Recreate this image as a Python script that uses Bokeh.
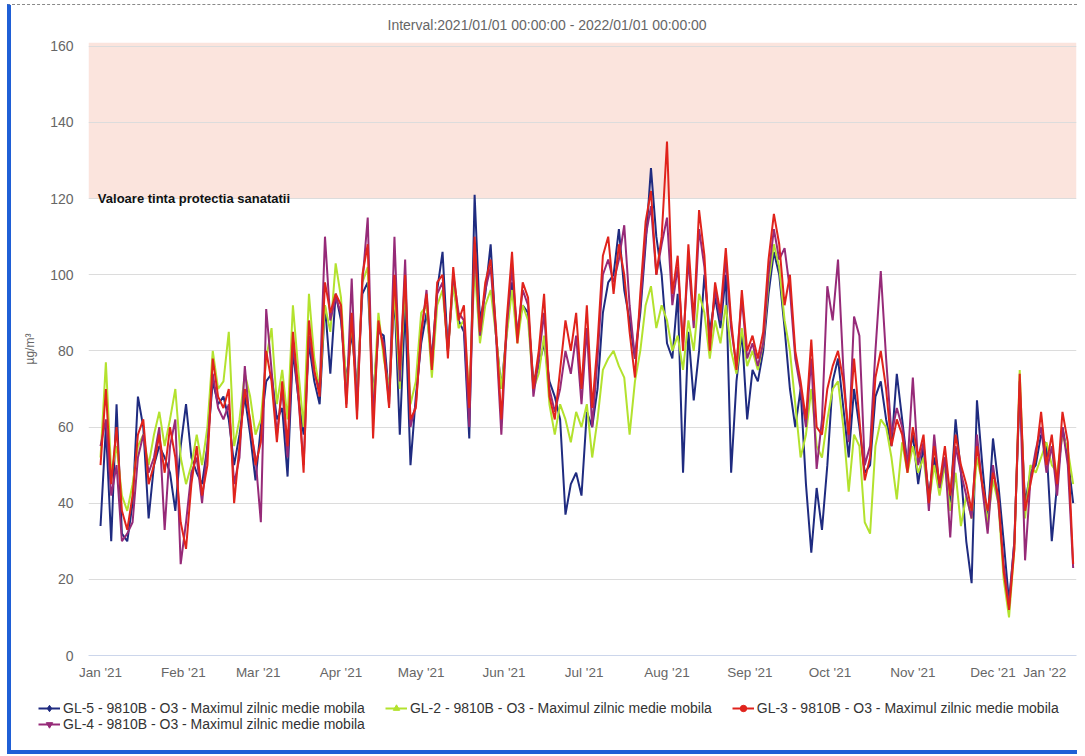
import pandas as pd
from bokeh.plotting import figure
from bokeh.layouts import column, row
from bokeh.models import (ColumnDataSource, BoxAnnotation, Label, Legend, LegendItem,
                          FixedTicker, DatetimeTickFormatter, Range1d)
from bokeh.embed import file_html
from bokeh.resources import INLINE

# ---------------- data (every 2nd day of 2021) ----------------
start_date = "2021-01-01"
n_points = 183
dates = pd.date_range(start_date, periods=n_points, freq="2D")

gl5 = [34, 60, 30, 66, 32, 30, 40, 68, 60, 36, 50, 55, 52, 48, 38, 55, 66, 52, 48, 45,
       55, 72, 66, 68, 62, 50, 58, 68, 58, 46, 60, 72, 74, 62, 65, 47, 80, 68, 58, 82,
       72, 66, 92, 74, 95, 88, 72, 85, 70, 95, 98, 68, 85, 84, 68, 95, 58, 92, 50, 68,
       82, 90, 78, 96, 106, 80, 98, 88, 85, 57, 121, 88, 95, 108, 84, 70, 85, 98, 85, 92,
       90, 72, 76, 82, 72, 68, 62, 37, 45, 48, 42, 64, 60, 70, 90, 98, 100, 112, 96, 88,
       78, 90, 108, 128, 110, 100, 82, 78, 95, 48, 85, 67, 80, 100, 85, 94, 86, 100, 48, 72,
       85, 62, 75, 72, 80, 95, 106, 100, 86, 70, 60, 70, 45, 27, 44, 33, 50, 72, 78, 65,
       52, 70, 60, 48, 50, 68, 72, 62, 55, 74, 62, 50, 58, 45, 55, 42, 52, 44, 52, 40,
       62, 48, 30, 19, 67, 50, 35, 57, 45, 30, 14, 30, 70, 40, 48, 50, 58, 55, 30, 45,
       60, 52, 40]

gl2 = [52, 77, 48, 55, 42, 38, 45, 55, 58, 50, 58, 64, 55, 62, 70, 52, 45, 50, 58, 50,
       60, 80, 70, 72, 85, 55, 62, 74, 68, 58, 62, 78, 86, 66, 75, 62, 92, 75, 60, 95,
       78, 70, 92, 85, 103, 94, 70, 88, 68, 98, 102, 66, 90, 78, 70, 96, 70, 98, 66, 72,
       90, 92, 73, 92, 96, 80, 98, 86, 88, 68, 102, 82, 92, 96, 84, 70, 84, 96, 82, 92,
       88, 70, 74, 84, 66, 58, 66, 62, 56, 64, 60, 66, 52, 62, 75, 78, 80, 76, 73, 58,
       72, 80, 92, 97, 86, 92, 88, 80, 84, 75, 88, 80, 95, 90, 78, 88, 82, 92, 80, 74,
       86, 76, 80, 75, 82, 98, 108, 102, 88, 80, 66, 52, 58, 70, 55, 52, 62, 70, 72, 60,
       43, 58, 55, 35, 32, 55, 62, 60, 52, 41, 56, 48, 55, 48, 52, 40, 50, 42, 50, 38,
       48, 34, 42, 36, 52, 45, 35, 46, 40, 20, 10, 28, 75, 36, 50, 48, 52, 56, 50, 48,
       58, 54, 45]

gl3 = [50, 70, 45, 60, 38, 33, 42, 58, 62, 45, 50, 58, 48, 60, 52, 35, 28, 45, 55, 42,
       50, 78, 68, 65, 70, 40, 55, 70, 62, 50, 56, 80, 72, 56, 72, 55, 85, 70, 48, 88,
       75, 68, 98, 90, 95, 92, 65, 90, 62, 100, 108, 57, 88, 80, 65, 100, 75, 100, 62, 65,
       85, 95, 75, 98, 100, 78, 102, 88, 92, 65, 110, 85, 98, 104, 86, 62, 88, 106, 82, 98,
       94, 70, 80, 95, 68, 62, 75, 88, 80, 90, 70, 92, 65, 82, 105, 110, 95, 108, 100, 85,
       73, 95, 114, 122, 100, 110, 135, 95, 105, 80, 108, 88, 117, 105, 80, 98, 90, 107, 88, 75,
       96, 80, 84, 78, 85, 104, 116, 108, 92, 100, 80, 72, 62, 83, 60, 58, 70, 76, 80, 72,
       58, 78, 62, 46, 52, 73, 80, 70, 55, 62, 58, 48, 60, 52, 58, 40, 55, 45, 55, 42,
       58, 50, 45, 38, 55, 45, 38, 48, 42, 22, 12, 28, 74, 38, 45, 52, 64, 50, 58, 45,
       64, 56, 24]

gl4 = [55, 62, 42, 50, 30, 32, 35, 52, 58, 48, 52, 60, 33, 55, 62, 24, 35, 48, 52, 40,
       55, 74, 65, 62, 66, 45, 52, 76, 60, 52, 35, 91, 75, 58, 70, 52, 82, 68, 50, 84,
       74, 70, 110, 88, 94, 90, 66, 99, 64, 98, 115, 62, 86, 82, 66, 110, 72, 104, 60, 66,
       84, 96, 76, 95, 98, 80, 100, 90, 88, 60, 108, 84, 96, 102, 84, 58, 86, 102, 84, 96,
       92, 68, 78, 90, 70, 64, 70, 80, 74, 84, 66, 86, 60, 78, 100, 104, 98, 104, 113, 92,
       78, 92, 110, 118, 100, 108, 115, 92, 102, 82, 104, 86, 112, 102, 82, 96, 88, 104, 86, 76,
       94, 78, 82, 76, 82, 100, 112, 104, 107, 96, 78, 70, 60, 78, 49, 62, 97, 88, 104, 75,
       56, 89, 84, 50, 55, 80, 101, 78, 58, 65, 60, 50, 73, 50, 56, 38, 58, 44, 52, 31,
       55, 48, 42, 36, 58, 44, 32, 50, 40, 24, 13, 30, 72, 25, 46, 54, 60, 48, 55, 42,
       60, 50, 23]

series_names = [
    "GL-5 - 9810B - O3 - Maximul zilnic medie mobila",
    "GL-2 - 9810B - O3 - Maximul zilnic medie mobila",
    "GL-3 - 9810B - O3 - Maximul zilnic medie mobila",
    "GL-4 - 9810B - O3 - Maximul zilnic medie mobila",
]
series_colors = ["#1f2b80", "#b3e22e", "#e0231c", "#962a78"]
series_markers = ["diamond", "triangle", "circle", "inverted_triangle"]

y_ticks = [0, 20, 40, 60, 80, 100, 120, 140, 160]
month_ticks = pd.date_range("2021-01-01", periods=13, freq="MS")
month_labels = ["Jan '21", "Feb '21", "Mar '21", "Apr '21", "May '21", "Jun '21",
                "Jul '21", "Aug '21", "Sep '21", "Oct '21", "Nov '21", "Dec '21", "Jan '22"]
target_value = 120
target_label = "Valoare tinta protectia sanatatii"
title_text = "Interval:2021/01/01 00:00:00 - 2022/01/01 00:00:00"
y_title = "µg/m³"

FONT = "Liberation Sans"
NBSP = "\u00a0"

# ---------------- main figure ----------------
p = figure(width=1066, height=685, x_axis_type="datetime",
           x_range=Range1d(pd.Timestamp("2020-12-27 12:00"), pd.Timestamp("2022-01-01 06:00")),
           y_range=Range1d(0, 161),
           output_backend="svg", toolbar_location=None,
           min_border_left=77, min_border_right=1, min_border_top=37, min_border_bottom=35)
p.background_fill_color = "white"
p.border_fill_color = "white"
p.outline_line_color = None

p.title.text = title_text
p.title.align = "left"
p.title.offset = 299
p.title.standoff = 16
p.title.vertical_align = "top"
p.title.text_font = FONT
p.title.text_font_size = "14px"
p.title.text_font_style = "normal"
p.title.text_color = "#666666"

band = BoxAnnotation(bottom=target_value, fill_color="#fbe4dd", fill_alpha=1.0,
                     line_color=None, level="image")
p.add_layout(band)

p.xgrid.grid_line_color = None
p.ygrid.ticker = FixedTicker(ticks=y_ticks)
p.ygrid.grid_line_color = "#dcdcdc"

p.yaxis.ticker = FixedTicker(ticks=y_ticks)
p.yaxis.axis_line_color = None
p.yaxis.major_tick_line_color = None
p.yaxis.minor_tick_line_color = None
p.yaxis.major_tick_out = 0
p.yaxis.minor_tick_out = 0
p.yaxis.major_label_standoff = 15
p.yaxis.major_label_text_font = FONT
p.yaxis.major_label_text_font_size = "14px"
p.yaxis.major_label_text_color = "#666666"
p.yaxis.axis_label = y_title
p.yaxis.axis_label_text_font = FONT
p.yaxis.axis_label_text_font_size = "12px"
p.yaxis.axis_label_text_font_style = "normal"
p.yaxis.axis_label_text_color = "#666666"
p.yaxis.axis_label_standoff = 10

month_ms = [int(t.value // 10**6) for t in month_ticks]
overrides = {ms: lab for ms, lab in zip(month_ms, month_labels)}
# the last label is justified inside the plot, like the original
overrides[month_ms[-1]] = month_labels[-1] + NBSP * 3
p.xaxis.ticker = FixedTicker(ticks=month_ms)
fmt = "%b '%y"
p.xaxis.formatter = DatetimeTickFormatter(days=fmt, months=fmt, years=fmt)
p.xaxis.major_label_overrides = overrides
p.xaxis.axis_line_color = "#ccd6eb"
p.xaxis.major_tick_line_color = None
p.xaxis.minor_tick_line_color = None
p.xaxis.major_tick_out = 0
p.xaxis.minor_tick_out = 0
p.xaxis.major_label_standoff = 9
p.xaxis.major_label_text_font = FONT
p.xaxis.major_label_text_font_size = "13.5px"
p.xaxis.major_label_text_color = "#666666"

p.add_layout(Label(x=pd.Timestamp("2020-12-31"), y=target_value, text=target_label,
                   text_align="left", text_baseline="middle", text_font=FONT,
                   text_font_size="13px", text_font_style="bold", text_color="#111111"))

src = ColumnDataSource(dict(date=dates, gl5=gl5, gl2=gl2, gl3=gl3, gl4=gl4))
for col, color in [("gl5", series_colors[0]), ("gl2", series_colors[1]),
                   ("gl4", series_colors[3]), ("gl3", series_colors[2])]:
    p.line("date", col, source=src, line_color=color, line_width=2)

# ---------------- legend strip ----------------
leg = figure(width=1066, height=60, x_range=Range1d(0, 1066), y_range=Range1d(0, 60),
             x_axis_location=None, y_axis_location=None,
             output_backend="svg", toolbar_location=None,
             min_border_left=0, min_border_right=0, min_border_top=0, min_border_bottom=0)
leg.grid.visible = False
leg.outline_line_color = None
leg.background_fill_color = "white"
leg.border_fill_color = "white"

items = []
for name, color, mk in zip(series_names, series_colors, series_markers):
    # points kept outside the visible strip, only used to draw the legend key
    dummy = ColumnDataSource(dict(x=[-500, -400], y=[-500, -500]))
    r1 = leg.line("x", "y", source=dummy, line_color=color, line_width=2)
    r2 = leg.scatter("x", "y", source=dummy, marker=mk, size=8,
                     fill_color=color, line_color=color)
    items.append(LegendItem(label=name, renderers=[r1, r2]))

common = dict(orientation="horizontal", padding=0, spacing=20, margin=0,
              glyph_width=22, glyph_height=16, label_height=16, label_standoff=3,
              label_text_font=FONT, label_text_font_size="14px",
              label_text_color="#333333", border_line_color=None,
              background_fill_alpha=0)
leg.add_layout(Legend(items=items[:3], location=(27, 34), **common))
leg.add_layout(Legend(items=items[3:], location=(27, 18), **common))

layout = column(p, row(leg), spacing=0)
layout.styles = {"margin-left": "7px", "margin-top": "4px",
                 "border-left": "4px solid #1f5fd6",
                 "border-bottom": "4px solid #1f5fd6",
                 "border-top": "1px dashed #8a8a8a"}

open("out.html", "w").write(file_html(layout, INLINE))
